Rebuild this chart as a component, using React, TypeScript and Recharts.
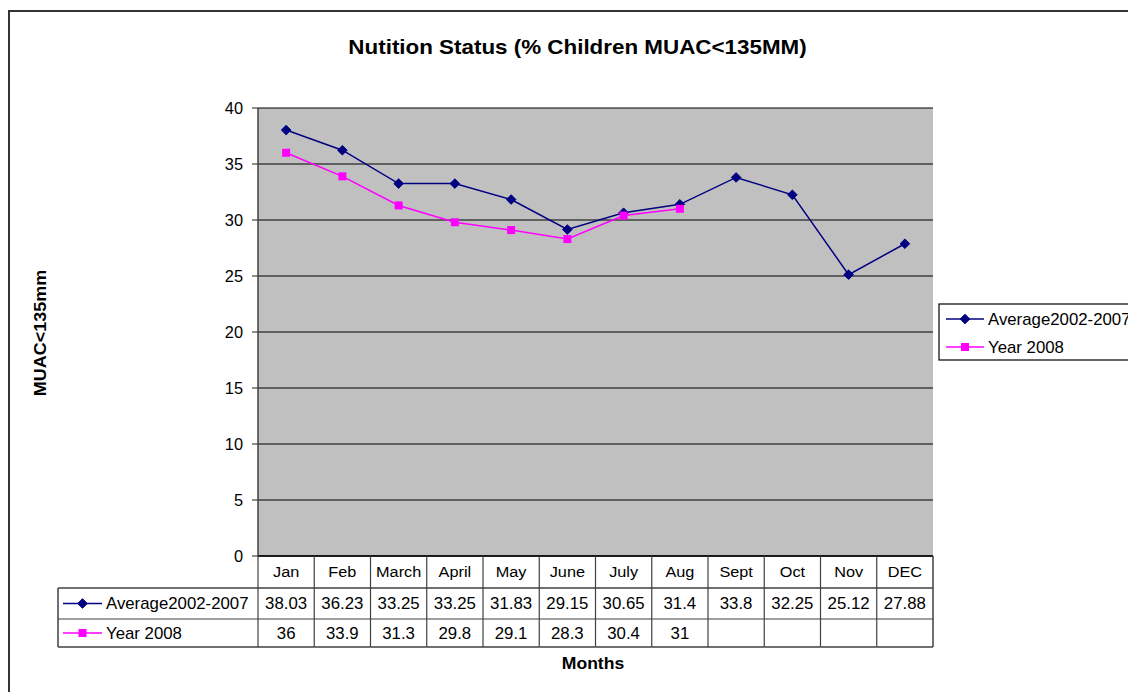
import { CartesianGrid, Line, LineChart, XAxis, YAxis } from "recharts";

const months = ["Jan", "Feb", "March", "April", "May", "June", "July", "Aug", "Sept", "Oct", "Nov", "DEC"];
const average = [38.03, 36.23, 33.25, 33.25, 31.83, 29.15, 30.65, 31.4, 33.8, 32.25, 25.12, 27.88];
const year2008 = [36, 33.9, 31.3, 29.8, 29.1, 28.3, 30.4, 31, null, null, null, null];
const seriesNames = ["Average2002-2007", "Year 2008"];
const yTicks = [0, 5, 10, 15, 20, 25, 30, 35, 40];

const title = "Nutition Status (% Children MUAC<135MM)";
const yTitle = "MUAC<135mm";
const xTitle = "Months";

const NAVY = "#000080";
const MAGENTA = "#FF00FF";
const FONT = '"Liberation Sans", Arial, sans-serif';

const W = 1128;
const H = 684;
const PLOT_L = 250;
const PLOT_R = 925;
const PLOT_T = 100;
const PLOT_B = 548;
const BAND = (PLOT_R - PLOT_L) / months.length;
// table rows
const R0 = PLOT_B;
const R1 = 580;
const R2 = 611;
const R3 = 639;
const TBL_L = 50;
const GRID = "#404040";

const rows = months.map((m, i) => ({ month: m, avg: average[i], y2008: year2008[i] }));

// source text is slightly stretched horizontally, hence the sx factor
function SText({ x, y, size, bold = false, anchor = "middle", rotate = 0, sx = 1.05, children }: any) {
  return (
    <text
      transform={`translate(${x},${y}) rotate(${rotate}) scale(${sx},1)`}
      textAnchor={anchor}
      dominantBaseline="central"
      fontFamily={FONT}
      fontSize={size}
      fontWeight={bold ? "bold" : "normal"}
      fill="#000"
    >
      {children}
    </text>
  );
}

function Diamond({ cx, cy }: any) {
  if (cx == null || cy == null) return null;
  const r = 4.8;
  return <polygon points={`${cx},${cy - r} ${cx + r},${cy} ${cx},${cy + r} ${cx - r},${cy}`} fill={NAVY} stroke={NAVY} />;
}

function Square({ cx, cy }: any) {
  if (cx == null || cy == null) return null;
  const s = 8;
  return <rect x={cx - s / 2} y={cy - s / 2} width={s} height={s} fill={MAGENTA} />;
}

function Symbol({ x1, x2, y, kind }: any) {
  const color = kind === 0 ? NAVY : MAGENTA;
  const mid = (x1 + x2) / 2;
  return (
    <g>
      <line x1={x1} x2={x2} y1={y} y2={y} stroke={color} strokeWidth={1.5} />
      {kind === 0 ? <Diamond cx={mid} cy={y} /> : <Square cx={mid} cy={y} />}
    </g>
  );
}

function YTick({ x, y, payload }: any) {
  return (
    <SText x={x} y={y} size={16} sx={1.02} anchor="end">
      {payload.value}
    </SText>
  );
}

function TableTick({ x, index }: any) {
  const left = x - BAND / 2;
  const right = x + BAND / 2;
  const last = index === months.length - 1;
  const v1 = average[index];
  const v2 = year2008[index];
  return (
    <g>
      <line x1={left} x2={left} y1={R0} y2={R3} stroke={GRID} strokeWidth={1.2} />
      {last && <line x1={right} x2={right} y1={R0} y2={R3} stroke={GRID} strokeWidth={1.5} />}
      <line x1={left} x2={right} y1={R1} y2={R1} stroke={GRID} strokeWidth={1.5} />
      <line x1={left} x2={right} y1={R2} y2={R2} stroke={GRID} strokeWidth={1.2} />
      <line x1={left} x2={right} y1={R3} y2={R3} stroke={GRID} strokeWidth={1.5} />
      <SText x={x} y={(R0 + R1) / 2} size={15.5}>
        {months[index]}
      </SText>
      <SText x={x} y={(R1 + R2) / 2} size={16}>
        {v1 != null ? String(v1) : ""}
      </SText>
      <SText x={x} y={(R2 + R3) / 2} size={16}>
        {v2 != null ? String(v2) : ""}
      </SText>
      {index === 0 && (
        <g>
          <line x1={TBL_L} x2={left} y1={R1} y2={R1} stroke={GRID} strokeWidth={1.5} />
          <line x1={TBL_L} x2={left} y1={R2} y2={R2} stroke={GRID} strokeWidth={1.2} />
          <line x1={TBL_L} x2={left} y1={R3} y2={R3} stroke={GRID} strokeWidth={1.5} />
          <line x1={TBL_L} x2={TBL_L} y1={R1} y2={R3} stroke={GRID} strokeWidth={1.5} />
          {seriesNames.map((name, k) => {
            const cy = k === 0 ? (R1 + R2) / 2 : (R2 + R3) / 2;
            return (
              <g key={name}>
                <Symbol x1={TBL_L + 5} x2={TBL_L + 44} y={cy} kind={k} />
                <SText x={TBL_L + 48} y={cy} size={16} anchor="start">
                  {name}
                </SText>
              </g>
            );
          })}
        </g>
      )}
    </g>
  );
}

export default function App() {
  return (
    <div style={{ position: "relative", width: W, height: H, overflow: "hidden", background: "#fff" }}>
      <div
        style={{
          position: "absolute",
          left: 0,
          top: 2,
          width: 1300,
          height: 800,
          border: "2px solid #333",
          boxSizing: "border-box",
        }}
      />
      <div style={{ position: "absolute", left: 0, top: 0 }}>
        <LineChart width={W} height={H} data={rows} margin={{ top: PLOT_T, right: W - PLOT_R, bottom: 0, left: PLOT_L - 60 }}>
          <CartesianGrid vertical={false} stroke="#000" fill="#C0C0C0" fillOpacity={1} />
          <XAxis
            dataKey="month"
            scale="band"
            height={H - PLOT_B}
            interval={0}
            tickLine={false}
            axisLine={{ stroke: "#000", strokeWidth: 1.5 }}
            tick={<TableTick />}
          />
          <YAxis
            width={60}
            domain={[0, 40]}
            ticks={yTicks}
            interval={0}
            tickSize={6}
            tickMargin={9}
            tickLine={{ stroke: "#222" }}
            axisLine={{ stroke: "#404040", strokeWidth: 1.5 }}
            tick={<YTick />}
          />
          <YAxis
            yAxisId="r"
            orientation="right"
            width={0}
            domain={[0, 40]}
            tick={false}
            tickLine={false}
            axisLine={{ stroke: "#808080", strokeWidth: 1.5 }}
          />
          <Line
            type="linear"
            dataKey="avg"
            name={seriesNames[0]}
            stroke={NAVY}
            strokeWidth={1.5}
            dot={(p: any) => <Diamond key={`d${p.index}`} cx={p.cx} cy={p.cy} />}
            isAnimationActive={false}
          />
          <Line
            type="linear"
            dataKey="y2008"
            name={seriesNames[1]}
            stroke={MAGENTA}
            strokeWidth={1.5}
            connectNulls={false}
            dot={(p: any) => <Square key={`s${p.index}`} cx={p.cx} cy={p.cy} />}
            isAnimationActive={false}
          />
        </LineChart>
      </div>
      <svg width={W} height={H} style={{ position: "absolute", left: 0, top: 0, pointerEvents: "none" }}>
        <SText x={569.5} y={39} size={20} sx={1.12} bold>
          {title}
        </SText>
        <SText x={32} y={325} size={16.5} sx={1.09} bold rotate={-90}>
          {yTitle}
        </SText>
        <SText x={585} y={656} size={16} sx={1.1} bold>
          {xTitle}
        </SText>
        <rect x={931} y={296} width={300} height={56} fill="#fff" stroke="#000" strokeWidth={1.2} />
        {seriesNames.map((name, k) => (
          <g key={name}>
            <Symbol x1={938} x2={976} y={k === 0 ? 311 : 339} kind={k} />
            <SText x={980} y={k === 0 ? 311 : 339} size={16} anchor="start">
              {name}
            </SText>
          </g>
        ))}
      </svg>
    </div>
  );
}
